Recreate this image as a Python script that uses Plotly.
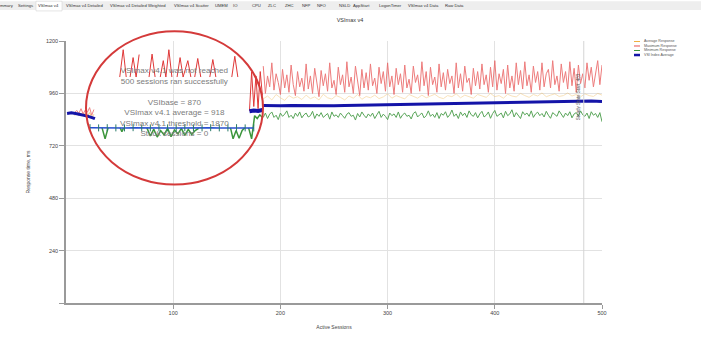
import plotly.graph_objects as go

# ---------------- data ----------------
# main view, sessions (every 2nd session shown for max / min)
max_sessions = list(range(184, 501, 2))
max_response = [
    1085, 960, 1040, 990, 1100, 975, 1050, 1010, 955, 1070,
    985, 1045, 965, 1090, 1000, 950, 1060, 990, 1030, 970,
    1095, 980, 1040, 960, 1075, 1005, 945, 1065, 995, 1050,
    970, 1100, 985, 1020, 955, 1080, 1000, 1045, 965, 1105,
    990, 1035, 960, 1085, 1010, 950, 1070, 985, 1055, 975,
    1095, 995, 1030, 960, 1080, 1005, 1060, 970, 1100, 990,
    1040, 955, 1075, 1000, 1050, 965, 1090, 985, 1025, 960,
    1085, 1010, 1045, 970, 1105, 995, 1060, 950, 1080, 1000,
    1035, 965, 1095, 990, 1055, 975, 1070, 1005, 1040, 960,
    1100, 985, 1050, 970, 1085, 1010, 1030, 955, 1075, 995,
    1060, 980, 1095, 1000, 1045, 965, 1080, 990, 1110, 975,
    1050, 1005, 1070, 960, 1090, 985, 1040, 970, 1100, 1000,
    1065, 980, 1105, 995, 1045, 965, 1085, 1010, 1060, 975,
    1100, 990, 1050, 1070, 985, 1110, 1000, 1040, 970, 1095,
    1010, 1060, 980, 1105, 995, 1075, 965, 1090, 1005, 1050,
    985, 1100, 1020, 1080, 990, 1060, 1110, 1000, 1090,
]
min_response = [
    850, 870, 845, 865, 875, 850, 860, 840, 870, 855,
    865, 880, 850, 860, 845, 870, 855, 875, 848, 862,
    870, 852, 858, 878, 845, 866, 855, 872, 850, 860,
    868, 842, 875, 855, 862, 850, 870, 858, 846, 865,
    872, 855, 860, 838, 868, 852, 875, 860, 848, 866,
    855, 870, 845, 862, 878, 850, 865, 855, 840, 870,
    858, 866, 850, 875, 846, 862, 870, 855, 860, 843,
    868, 876, 852, 862, 870, 848, 858, 880, 855, 865,
    850, 872, 845, 868, 860, 876, 850, 862, 884, 855,
    866, 845, 875, 858, 870, 850, 880, 862, 855, 872,
    848, 866, 878, 852, 860, 875, 846, 868, 882, 855,
    862, 870, 848, 878, 858, 866, 885, 852, 872, 860,
    845, 876, 862, 870, 855, 880, 850, 866, 874, 858,
    868, 852, 878, 860, 846, 872, 864, 855, 880, 862,
    850, 870, 858, 876, 848, 866, 872, 856, 880, 862,
    855, 870, 845, 876, 860, 868, 850, 872, 830,
]
avg_sessions = list(range(184, 501, 4))
avg_response = [
    935, 948, 930, 955, 940, 928, 950, 938, 945, 932,
    952, 936, 944, 930, 956, 940, 934, 950, 942, 930,
    948, 938, 955, 933, 946, 940, 952, 936, 944, 958,
    938, 950, 942, 935, 955, 945, 938, 952, 940, 948,
    956, 942, 936, 950, 945, 958, 940, 952, 946, 938,
    955, 948, 942, 960, 945, 950, 938, 956, 948, 944,
    960, 950, 942, 955, 948, 962, 945, 952, 958, 946,
    950, 962, 948, 955, 944, 958, 950, 946, 960, 952,
]
vsi_sessions = [184] + list(range(190, 501, 10))
vsi_index = [
    905, 904, 903, 905, 904, 902, 901, 903, 905, 906,
    907, 906, 908, 909, 910, 911, 912, 913, 913, 914,
    916, 917, 918, 918, 919, 921, 922, 923, 924, 925,
    924, 925, 923,
]

# first sessions, left of the magnifier
start_sessions = [1, 5, 10, 15, 20, 25, 27]
start_vsi = [868, 871, 867, 862, 856, 848, 844]
start_max_sessions = [8, 10, 12, 14, 16, 18, 20, 22, 24, 26]
start_max = [872, 882, 868, 890, 866, 884, 874, 895, 860, 886]
start_avg = [860, 866, 858, 870, 862, 868, 856, 872, 850, 864]

# magnified view (zoom units 1..40)
zoom_base_x = [1, 3, 5, 7, 9, 11, 13, 15, 17, 19, 21, 23, 25, 27, 29, 31, 33, 35, 37, 39]
zoom_base = [803, 802, 803, 802, 802, 803, 802, 802, 803, 802,
             802, 803, 802, 802, 803, 802, 802, 803, 802, 802]
zoom_max_x = [7.9, 8.7, 9.4, None, 10.3, 11.0, 11.7, 12.4, None, 14.7, 15.4, 16.1, None,
              17.3, 18.0, 18.6, 19.3, 20.0, None, 21.2, 21.9, 22.6, 23.7, 24.4, None,
              25.3, 26.0, 26.7, None, 28.8, 29.5, 30.2, None, 33.9, 34.6, 35.3, None,
              38.0, 38.5, 39.0, 39.5, 40.0, 40.5, 41.0]
zoom_max = [1035, 1160, 1035, None, 1035, 1124, 1035, 1138, None, 1035, 1140, 1035, None,
            1035, 1110, 1035, 1160, 1035, None, 1035, 1124, 1035, 1110, 1035, None,
            1035, 1120, 1035, None, 1035, 1115, 1035, None, 1035, 1130, 1035, None,
            880, 1058, 900, 1040, 890, 1060, 950]
zoom_min_x = [3.8, 4.5, 5.2, None, 8.0, 8.4, 8.8, None, 14.2, 15.0, 15.8, 16.6, 17.4, 18.2,
              19.0, 19.8, 20.6, 21.4, 22.2, 23.0, 23.8, 24.6, 25.4, 26.2, None,
              33.6, 34.2, 34.9, 35.6, 36.3, 36.9, None, 37.8, 38.5, 39.2, 39.8, 40.4, 41.0]
zoom_min = [802, 752, 802, None, 802, 785, 802, None, 802, 765, 796, 760, 790, 770,
            800, 762, 792, 775, 800, 768, 795, 772, 790, 800, None,
            802, 752, 790, 755, 790, 802, None, 802, 752, 858, 845, 862, 850]
zoom_vsi_x = [38.0, 39.0, 40.0, 41.0]
zoom_vsi = [878, 882, 880, 884]

steady_state = [483]
y_ticks = [0, 240, 480, 720, 960, 1200]
y_tick_labels = ["", "240", "480", "720", "960", "1200"]
x_ticks = [100, 200, 300, 400, 500]
x_tick_labels = ["100", "200", "300", "400", "500"]

summary_lines = [
    "VSImax v4.1 was not reached",
    "500 sessions ran successfully",
    "",
    "VSIbase = 870",
    "VSImax v4.1 average = 918",
    "VSImax v4.1 threshold = 1870",
    "Stuck sessions = 0",
]
legend_names = ["Average Response", "Maximum Response", "Minimum Response", "VSI Index Average"]
tab_names = ["mmary", "Settings", "VSImax v4", "VSImax v4 Detailed", "VSImax v4 Detailed Weighted",
             "VSImax v4 Scatter", "UMEM", "IO", "CPU", "ZLC", "ZHC", "NFP", "NFO", "NSLD",
             "AppStart", "LogonTimer", "VSImax v4 Data", "Raw Data"]

# ---------------- styling ----------------
C_AVG = "#f0b040"
C_MAX = "#e85050"
C_MIN = "#3c963c"
C_VSI = "#1414a8"
GREY_TXT = "#444444"

L, R, T, B = 66, 99, 41, 31
W, H = 701, 342
PW, PH = W - L - R, H - T - B


def px(x):
    return (x - L) / PW


def py(y):
    return (H - B - y) / PH


fig = go.Figure()

# main traces
fig.add_trace(go.Scatter(x=avg_sessions, y=avg_response, mode="lines",
                         line=dict(color=C_AVG, width=1), opacity=0.35, name=legend_names[0]))
fig.add_trace(go.Scatter(x=max_sessions, y=max_response, mode="lines",
                         line=dict(color=C_MAX, width=1), opacity=0.75, name=legend_names[1]))
fig.add_trace(go.Scatter(x=max_sessions, y=min_response, mode="lines",
                         line=dict(color=C_MIN, width=1), opacity=0.85, name=legend_names[2]))
fig.add_trace(go.Scatter(x=vsi_sessions, y=vsi_index, mode="lines",
                         line=dict(color=C_VSI, width=3), name=legend_names[3]))

# first sessions
fig.add_trace(go.Scatter(x=start_max_sessions, y=start_avg, mode="lines",
                         line=dict(color=C_AVG, width=1), opacity=0.7, showlegend=False))
fig.add_trace(go.Scatter(x=start_max_sessions, y=start_max, mode="lines",
                         line=dict(color=C_MAX, width=1), opacity=0.7, showlegend=False))
fig.add_trace(go.Scatter(x=start_sessions, y=start_vsi, mode="lines",
                         line=dict(color=C_VSI, width=3), showlegend=False))

# magnified traces on an overlaid x axis
fig.add_trace(go.Scatter(x=zoom_max_x, y=zoom_max, xaxis="x2", yaxis="y", mode="lines",
                         line=dict(color="#e03838", width=1), showlegend=False, connectgaps=False))
fig.add_trace(go.Scatter(x=zoom_min_x, y=zoom_min, xaxis="x2", yaxis="y", mode="lines",
                         line=dict(color=C_MIN, width=1.5), showlegend=False, connectgaps=False))
fig.add_trace(go.Scatter(x=zoom_base_x, y=zoom_base, xaxis="x2", yaxis="y", mode="lines+markers",
                         line=dict(color="#2850d0", width=1.5),
                         marker=dict(symbol="line-ns-open", size=5, color="#2a7a6a",
                                     line=dict(width=1, color="#2a7a6a")),
                         showlegend=False))
fig.add_trace(go.Scatter(x=zoom_vsi_x, y=zoom_vsi, xaxis="x2", yaxis="y", mode="lines",
                         line=dict(color=C_VSI, width=4), showlegend=False))

shapes = []
annotations = []

# tab bar
shapes.append(dict(type="rect", xref="paper", yref="paper", x0=px(0), x1=px(W), y0=py(9), y1=py(0),
                   fillcolor="#eeeeee", line=dict(width=0), layer="below"))
shapes.append(dict(type="rect", xref="paper", yref="paper", x0=px(36), x1=px(62), y0=py(10), y1=py(0),
                   fillcolor="#ffffff", line=dict(color="#cccccc", width=0.5), layer="below"))
tab_x = [7, 25, 48, 84, 138, 191, 221, 235, 256, 272, 289, 306, 322, 344, 361, 390, 423, 454]
for name, tx in zip(tab_names, tab_x):
    annotations.append(dict(xref="paper", yref="paper", x=px(tx), y=py(4.5), text=name,
                            showarrow=False, font=dict(size=4.2, color="#333333", family="Liberation Sans"),
                            xanchor="center", yanchor="middle"))

# steady state marker
for ss in steady_state:
    shapes.append(dict(type="line", xref="x", yref="paper", x0=ss, x1=ss, y0=0, y1=1,
                       line=dict(color="#d4d4d4", width=1)))
    annotations.append(dict(xref="x", yref="paper", x=ss, y=py(72), xshift=-5,
                            text="Steady State Start: " + str(ss), textangle=-90, showarrow=False,
                            font=dict(size=4.5, color="#555555", family="Liberation Sans")))

# magnifier circle
shapes.append(dict(type="circle", xref="paper", yref="paper", x0=px(86), x1=px(263), y0=py(189), y1=py(31),
                   line=dict(color="#d43a3a", width=2)))

# summary text inside magnifier
annotations.append(dict(xref="paper", yref="paper", x=px(174), y=py(104.3), text="<br>".join(summary_lines),
                        showarrow=False, xanchor="center", yanchor="middle", align="center",
                        font=dict(size=8.1, color="#7c7c7c", family="Liberation Sans")))

# manual legend
legend_colors = [C_AVG, C_MAX, C_MIN, C_VSI]
legend_widths = [1, 1, 1, 2.5]
for i, (nm, col, lw) in enumerate(zip(legend_names, legend_colors, legend_widths)):
    ly = 41.5 + i * 4.65
    shapes.append(dict(type="line", xref="paper", yref="paper", x0=px(634), x1=px(640),
                       y0=py(ly), y1=py(ly), line=dict(color=col, width=lw)))
annotations.append(dict(xref="paper", yref="paper", x=px(642), y=py(48.5), text="<br>".join(legend_names),
                        showarrow=False, xanchor="left", yanchor="middle", align="left",
                        font=dict(size=3.6, color="#555555", family="Liberation Sans")))

fig.update_layout(
    width=W, height=H,
    margin=dict(l=L, r=R, t=T, b=B),
    paper_bgcolor="white", plot_bgcolor="white",
    showlegend=False,
    title=dict(text="VSImax v4", x=350 / W, y=1 - 20 / H, xanchor="center", yanchor="middle",
               font=dict(size=5.5, color="#333333", family="Liberation Sans")),
    font=dict(family="Liberation Sans", size=5, color=GREY_TXT),
    xaxis=dict(range=[0, 500], tickvals=x_ticks, ticktext=x_tick_labels, showgrid=True,
               gridcolor="#e2e2e2", gridwidth=1, showline=True, linecolor="#9a9a9a", linewidth=1.5,
               ticks="outside", ticklen=4, tickcolor="#9a9a9a", zeroline=False,
               tickfont=dict(size=5.5, color=GREY_TXT),
               title=dict(text="Active Sessions", font=dict(size=5, color=GREY_TXT), standoff=10)),
    xaxis2=dict(range=[-4.57, 119.8], overlaying="x", anchor="y", visible=False),
    yaxis=dict(range=[0, 1200], tickvals=y_ticks, ticktext=y_tick_labels, showgrid=True,
               gridcolor="#e2e2e2", gridwidth=1, showline=True, linecolor="#9a9a9a", linewidth=1.5,
               ticks="outside", ticklen=5, tickcolor="#9a9a9a", zeroline=False,
               tickfont=dict(size=5.5, color=GREY_TXT),
               title=dict(text="Response time, ms", font=dict(size=5, color=GREY_TXT), standoff=15)),
    shapes=shapes,
    annotations=annotations,
)

fig.write_html("out.html")
